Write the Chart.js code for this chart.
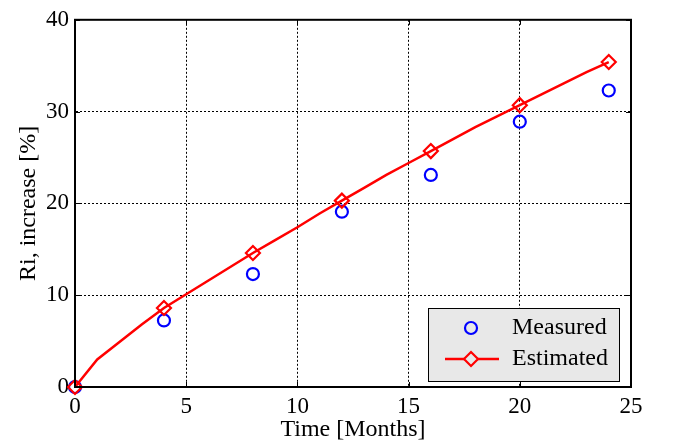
<!DOCTYPE html>
<html>
<head>
<meta charset="utf-8">
<script src="https://cdn.jsdelivr.net/npm/chart.js@4/dist/chart.umd.min.js"></script>
<style>
html,body{margin:0;padding:0;background:#fff;}
#wrap{width:673px;height:447px;}
</style>
</head>
<body>
<div id="wrap"><canvas id="c" width="673" height="447"></canvas></div>
<script>
const xTicks = [0, 5, 10, 15, 20, 25];
const yTicks = [0, 10, 20, 30, 40];
const sampleMonths = [0, 4, 8, 12, 16, 20, 24];
const measured = [0, 7.25, 12.3, 19.1, 23.1, 28.9, 32.3];
const estimatedAtSamples = [0, 8.6, 14.6, 20.3, 25.7, 30.7, 35.4];
const curveMonths = [0,1,2,3,4,5,6,7,8,9,10,11,12,13,14,15,16,17,18,19,20,21,22,23,24];
const estimatedCurve = [0,3.0,4.9,6.8,8.6,10.1,11.6,13.1,14.6,16.0,17.4,18.9,20.3,21.7,23.1,24.4,25.7,27.0,28.3,29.5,30.7,31.9,33.1,34.3,35.4];
const legendLabels = ['Measured', 'Estimated'];
const xTitle = 'Time [Months]';
const yTitle = 'Ri, increase [%]';

const FONT = "'Liberation Serif', 'Times New Roman', serif";

const framePlugin = {
  id: 'frame',
  afterDatasetsDraw(chart) {
    const {ctx, chartArea: a, scales} = chart;
    const xs = scales.x, ys = scales.y;
    ctx.save();
    ctx.strokeStyle = '#000';
    ctx.lineWidth = 1;
    ctx.setLineDash([]);
    const tl = 5;
    xTicks.forEach(v => {
      const px = Math.round(xs.getPixelForValue(v)) + 0.5;
      ctx.beginPath();
      ctx.moveTo(px, a.bottom); ctx.lineTo(px, a.bottom - tl);
      ctx.moveTo(px, a.top); ctx.lineTo(px, a.top + tl);
      ctx.stroke();
    });
    yTicks.forEach(v => {
      const py = Math.round(ys.getPixelForValue(v)) + 0.5;
      ctx.beginPath();
      ctx.moveTo(a.left, py); ctx.lineTo(a.left + tl, py);
      ctx.moveTo(a.right, py); ctx.lineTo(a.right - tl, py);
      ctx.stroke();
    });
    ctx.lineWidth = 2;
    ctx.strokeRect(a.left, a.top, a.right - a.left, a.bottom - a.top);
    ctx.restore();
  },
  afterDraw(chart) {
    const {ctx} = chart;
    const lx = 428, ly = 308, lw = 191, lh = 73;
    ctx.save();
    ctx.fillStyle = '#e8e8e8';
    ctx.fillRect(lx, ly, lw, lh);
    ctx.strokeStyle = '#000';
    ctx.lineWidth = 1;
    ctx.strokeRect(lx + 0.5, ly + 0.5, lw, lh);
    const y1 = 328, y2 = 359, mx = 471;
    ctx.strokeStyle = '#0000ff';
    ctx.lineWidth = 2.2;
    ctx.beginPath();
    ctx.arc(mx, y1, 6, 0, Math.PI * 2);
    ctx.stroke();
    ctx.strokeStyle = '#ff0000';
    ctx.lineWidth = 2.5;
    ctx.beginPath();
    ctx.moveTo(445, y2); ctx.lineTo(499, y2);
    ctx.stroke();
    ctx.fillStyle = '#e8e8e8';
    ctx.lineWidth = 2.2;
    ctx.beginPath();
    ctx.moveTo(mx, y2 - 7); ctx.lineTo(mx + 7, y2); ctx.lineTo(mx, y2 + 7); ctx.lineTo(mx - 7, y2); ctx.closePath();
    ctx.fill(); ctx.stroke();
    ctx.fillStyle = '#000';
    ctx.font = '24px ' + FONT;
    ctx.textBaseline = 'middle';
    ctx.textAlign = 'left';
    ctx.fillText(legendLabels[0], 512, y1);
    ctx.fillText(legendLabels[1], 512, y2);
    ctx.restore();
  }
};

const bgPlugin = {
  id: 'bg',
  beforeDraw(chart) {
    const {ctx, width, height} = chart;
    ctx.save();
    ctx.fillStyle = '#fff';
    ctx.fillRect(0, 0, width, height);
    ctx.restore();
  }
};

new Chart(document.getElementById('c'), {
  type: 'scatter',
  data: {
    datasets: [
      {
        label: legendLabels[1] + ' markers',
        data: sampleMonths.map((m, i) => ({x: m, y: estimatedAtSamples[i]})),
        showLine: false,
        pointStyle: 'rectRot',
        pointRadius: 7,
        borderColor: '#ff0000',
        backgroundColor: 'rgba(255,255,255,0)',
        borderWidth: 2.2,
        clip: false,
        order: 0
      },
      {
        label: legendLabels[1],
        data: curveMonths.map((m, i) => ({x: m, y: estimatedCurve[i]})),
        showLine: true,
        pointRadius: 0,
        borderColor: '#ff0000',
        borderWidth: 2.5,
        tension: 0,
        clip: false,
        order: 1
      },
      {
        label: legendLabels[0],
        data: sampleMonths.map((m, i) => ({x: m, y: measured[i]})),
        showLine: false,
        pointStyle: 'circle',
        pointRadius: 6,
        borderColor: '#0000ff',
        backgroundColor: 'rgba(255,255,255,0)',
        borderWidth: 2.2,
        clip: false,
        order: 2
      }
    ]
  },
  options: {
    responsive: false,
    animation: false,
    events: [],
    layout: {padding: {top: 13, right: 42, left: 0, bottom: 0}},
    plugins: {legend: {display: false}, tooltip: {enabled: false}, title: {display: false}},
    scales: {
      x: {
        type: 'linear',
        min: 0, max: 25,
        afterFit(s) { s.height = 60; },
        afterBuildTicks(s) { s.ticks = xTicks.map(v => ({value: v})); },
        ticks: {color: '#000', font: {family: FONT, size: 23}, padding: 6, maxRotation: 0},
        grid: {color: '#000', lineWidth: 1, drawTicks: false},
        border: {display: true, color: '#000', width: 2, dash: [2, 2]},
        title: {display: true, text: xTitle, color: '#000', font: {family: FONT, size: 24}, padding: {top: 0, bottom: 3}}
      },
      y: {
        type: 'linear',
        min: 0, max: 40,
        afterFit(s) { s.width = 75; },
        afterBuildTicks(s) { s.ticks = yTicks.map(v => ({value: v})); },
        ticks: {color: '#000', font: {family: FONT, size: 23}, padding: 6},
        grid: {color: '#000', lineWidth: 1, drawTicks: false},
        border: {display: true, color: '#000', width: 2, dash: [2, 2]},
        title: {display: true, text: yTitle, color: '#000', font: {family: FONT, size: 24}, padding: {top: 14, bottom: 0}}
      }
    }
  },
  plugins: [bgPlugin, framePlugin]
});
</script>
</body>
</html>
